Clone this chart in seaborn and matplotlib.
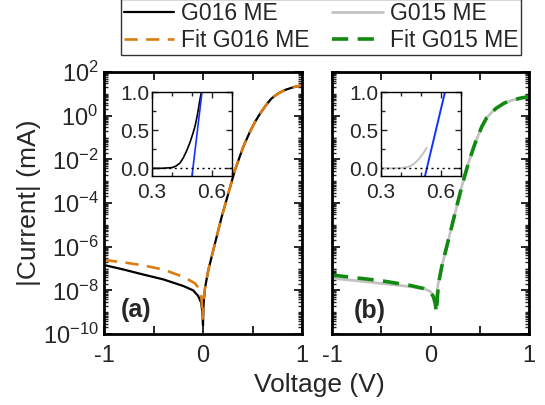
import numpy as np
import pandas as pd
import matplotlib
matplotlib.use("Agg")
import matplotlib.pyplot as plt
import matplotlib.ticker as mticker
import seaborn as sns

# ---------------- data (log10 of |I| in mA) ----------------
v_g016 = [-1.0, -0.8, -0.6, -0.4, -0.2, -0.1, -0.05, -0.02, -0.007, 0.0,
          0.006, 0.02, 0.054, 0.121, 0.189, 0.256, 0.323, 0.407, 0.475,
          0.53, 0.58, 0.64, 0.69, 0.76, 0.83, 0.91, 1.0]
logi_g016 = [-6.84, -7.05, -7.28, -7.50, -7.80, -8.00, -8.25, -8.55, -8.95, -9.60,
             -8.60, -7.90, -7.07, -5.85, -4.63, -3.56, -2.49, -1.42, -0.73,
             -0.25, 0.12, 0.50, 0.78, 1.02, 1.18, 1.30, 1.40]

v_fit016 = [-1.0, -0.8, -0.6, -0.4, -0.2, -0.08, -0.04, -0.015, -0.004,
            0.004, 0.02, 0.054, 0.121, 0.189, 0.256, 0.323, 0.407, 0.475,
            0.53, 0.58, 0.64, 0.69, 0.76, 0.83, 0.91, 1.0]
logi_fit016 = [-6.61, -6.72, -6.86, -7.05, -7.38, -7.68, -7.92, -8.35, -9.30,
               -8.50, -7.90, -7.07, -5.85, -4.63, -3.56, -2.49, -1.42, -0.73,
               -0.25, 0.12, 0.50, 0.78, 1.02, 1.18, 1.30, 1.40]

v_g015 = [-1.0, -0.75, -0.51, -0.3, -0.07, 0.0, 0.03, 0.045, 0.056, 0.064,
          0.075, 0.114, 0.181, 0.249, 0.317, 0.384, 0.452, 0.52, 0.57,
          0.62, 0.67, 0.75, 0.84, 0.92, 1.0]
logi_g015 = [-7.45, -7.56, -7.68, -7.78, -7.91, -8.06, -8.25, -8.45, -8.72, -8.20,
             -7.75, -6.92, -5.70, -4.47, -3.25, -2.18, -1.27, -0.51, -0.10,
             0.15, 0.35, 0.58, 0.72, 0.81, 0.87]

v_fit015 = [-1.0, -0.75, -0.5, -0.2, -0.07, 0.0, 0.03, 0.048, 0.060,
            0.072, 0.085, 0.114, 0.181, 0.249, 0.317, 0.384, 0.452, 0.52, 0.57,
            0.62, 0.67, 0.75, 0.84, 0.92, 1.0]
logi_fit015 = [-7.30, -7.43, -7.56, -7.78, -7.92, -8.08, -8.30, -8.60, -9.00,
               -8.20, -7.60, -6.92, -5.70, -4.47, -3.25, -2.18, -1.27, -0.51, -0.10,
               0.15, 0.35, 0.58, 0.72, 0.81, 0.87]

# insets (linear, mA)
inset_v_a = [0.30, 0.35, 0.40, 0.42, 0.44, 0.457, 0.475, 0.49, 0.505, 0.515, 0.527, 0.537, 0.55]
inset_i_a = [0.0, 0.001, 0.01, 0.03, 0.07, 0.14, 0.24, 0.34, 0.46, 0.55, 0.70, 0.86, 1.05]
tan_v_a = [0.50, 0.55]
tan_i_a = [-0.10, 1.00]

inset_v_b = [0.30, 0.35, 0.40, 0.43, 0.445, 0.46, 0.478, 0.495, 0.512, 0.528]
inset_i_b = [0.0, 0.0, 0.004, 0.015, 0.03, 0.05, 0.09, 0.14, 0.20, 0.27]
tan_v_b = [0.52, 0.62]
tan_i_b = [-0.10, 1.00]

# ---------------- style ----------------
sns.set_style("ticks")
plt.rcParams["font.family"] = ["Liberation Sans", "DejaVu Sans"]
plt.rcParams["mathtext.fontset"] = "custom"
plt.rcParams["mathtext.rm"] = "Liberation Sans"
plt.rcParams["mathtext.it"] = "Liberation Sans:italic"
plt.rcParams["mathtext.bf"] = "Liberation Sans:bold"

c_orange = "#d97c12"
c_green = "#128a12"
c_gray = "#c3c3c3"
c_blue = "#1133ff"

fig = plt.figure(figsize=(5.45, 4.05), dpi=100)
axA = fig.add_axes([104/545, 1-334/405, 198/545, 262/405])
axB = fig.add_axes([332/545, 1-334/405, 197/545, 262/405])

def to_mA(lst):
    return [10.0**x for x in lst]

sns.lineplot(x=v_g016, y=to_mA(logi_g016), ax=axA, color="black", lw=1.6,
             label="G016 ME", legend=False)
sns.lineplot(x=v_fit016, y=to_mA(logi_fit016), ax=axA, color=c_orange, lw=1.9,
             linestyle=(0, (5, 3.2)), label="Fit G016 ME", legend=False)
sns.lineplot(x=v_g015, y=to_mA(logi_g015), ax=axB, color=c_gray, lw=2.0,
             label="G015 ME", legend=False)
sns.lineplot(x=v_fit015, y=to_mA(logi_fit015), ax=axB, color=c_green, lw=2.6,
             linestyle=(0, (4.5, 2.6)), label="Fit G015 ME", legend=False)

ytick_vals = [1e-10, 1e-8, 1e-6, 1e-4, 1e-2, 1e0, 1e2]
ytick_labels = [r"$10^{-10}$", r"$10^{-8}$", r"$10^{-6}$", r"$10^{-4}$",
                r"$10^{-2}$", r"$10^{0}$", r"$10^{2}$"]
xtick_vals = [-1, -0.5, 0, 0.5, 1]
xtick_labels = ["-1", "", "0", "", "1"]

for ax in (axA, axB):
    ax.set_yscale("log")
    ax.set_xlim(-1, 1)
    ax.set_ylim(1e-10, 1e2)
    ax.yaxis.set_major_locator(mticker.FixedLocator(ytick_vals))
    ax.yaxis.set_minor_locator(mticker.LogLocator(base=10, subs=np.arange(1, 10), numticks=100))
    ax.yaxis.set_minor_formatter(mticker.NullFormatter())
    ax.set_xticks(xtick_vals)
    ax.set_xticklabels(xtick_labels)
    ax.tick_params(which="both", direction="in", top=True, right=True)
    ax.tick_params(which="major", length=6, width=1.4, labelsize=17)
    ax.tick_params(axis="x", which="major", pad=8)
    ax.tick_params(axis="y", which="major", pad=4)
    ax.tick_params(which="minor", length=3, width=1.0)
    for s in ax.spines.values():
        s.set_linewidth(2.0)
        s.set_color("black")
    ax.set_xlabel("")
    ax.set_ylabel("")

axA.set_yticklabels(ytick_labels)
axB.set_yticklabels([])
axA.set_ylabel("|Current| (mA)", fontsize=19, labelpad=1)
fig.text(319/545, 1-385/405, "Voltage (V)", ha="center", va="center", fontsize=19)

axA.text(0.16, 0.09, "(a)", transform=axA.transAxes, ha="center", va="center",
         fontsize=18, fontweight="bold")
axB.text(0.19, 0.088, "(b)", transform=axB.transAxes, ha="center", va="center",
         fontsize=18, fontweight="bold")

# insets
insA = fig.add_axes([152/545, 1-176/405, 80/545, 84/405])
insB = fig.add_axes([381/545, 1-176/405, 80/545, 84/405])
sns.lineplot(x=inset_v_a, y=inset_i_a, ax=insA, color="black", lw=1.2)
sns.lineplot(x=tan_v_a, y=tan_i_a, ax=insA, color=c_blue, lw=1.2)
sns.lineplot(x=inset_v_b, y=inset_i_b, ax=insB, color=c_gray, lw=1.4)
sns.lineplot(x=tan_v_b, y=tan_i_b, ax=insB, color=c_blue, lw=1.4)
for ins in (insA, insB):
    ins.axhline(0, color="black", lw=1.0, linestyle=(0, (1.5, 2.5)))
    ins.set_xlim(0.3, 0.7)
    ins.set_ylim(-0.1, 1.0)
    ins.set_xticks([0.3, 0.6])
    ins.set_xticklabels(["0.3", "0.6"])
    ins.set_xticks([0.4, 0.5, 0.7], minor=True)
    ins.set_yticks([0.0, 0.5, 1.0])
    ins.set_yticklabels(["0.0", "0.5", "1.0"])
    ins.set_yticks([0.25, 0.75], minor=True)
    ins.tick_params(which="both", direction="in", top=True, right=True)
    ins.tick_params(which="major", length=4, width=1.0, labelsize=15, pad=2)
    ins.tick_params(axis="x", which="major", pad=5)
    ins.tick_params(which="minor", length=3, width=1.0)
    for s in ins.spines.values():
        s.set_linewidth(1.0)
        s.set_color("black")
    ins.set_xlabel("")
    ins.set_ylabel("")

# legend
hA, lA = axA.get_legend_handles_labels()
hB, lB = axB.get_legend_handles_labels()
handles = [hA[0], hA[1], hB[0], hB[1]]
labels = [lA[0], lA[1], lB[0], lB[1]]
leg = fig.legend(handles, labels, ncol=2, loc="upper center",
                 bbox_to_anchor=(321/545, 1.003), fontsize=16.5, frameon=True,
                 fancybox=False, edgecolor="#333333", framealpha=1,
                 handlelength=2.2, handletextpad=0.3, columnspacing=1.0,
                 borderpad=0.12, labelspacing=0.2, borderaxespad=0)
leg.get_frame().set_linewidth(1.0)

fig.savefig("out.png", dpi=100)
